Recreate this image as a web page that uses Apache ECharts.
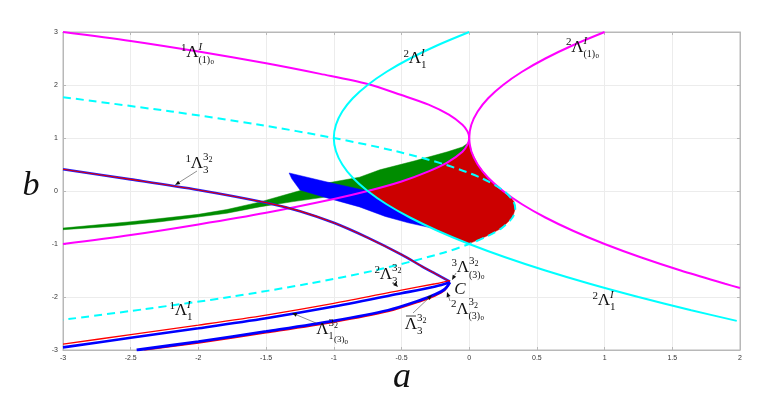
<!DOCTYPE html>
<html><head><meta charset="utf-8">
<script src="https://cdn.jsdelivr.net/npm/echarts@6/dist/echarts.min.js"></script>
<style>html,body{margin:0;padding:0;background:#fff}#c{width:768px;height:398px}</style>
</head><body><div id="c"></div>
<script>
// ---- data (a, b) ----
const xTicks = [-3, -2.5, -2, -1.5, -1, -0.5, 0, 0.5, 1, 1.5, 2];
const yTicks = [-3, -2, -1, 0, 1, 2, 3];

const magentaLeft = [[-3,3],[-2.5,2.83],[-2,2.63],[-1.5,2.41],[-1.1,2.21],[-0.75,2.02],[-0.5,1.81],[-0.3,1.63],[-0.15,1.44],[-0.05,1.25],[-0.012,1.12],[0,1],[-0.012,0.88],[-0.05,0.74],[-0.16,0.54],[-0.3,0.37],[-0.5,0.18],[-0.75,0],[-1,-0.15],[-1.5,-0.41],[-2,-0.63],[-2.5,-0.83],[-3,-1]];
const magentaRight = [[1,3],[0.766,2.75],[0.5625,2.5],[0.39,2.25],[0.25,2],[0.14,1.75],[0.0625,1.5],[0.0156,1.25],[0,1],[0.0156,0.75],[0.0625,0.5],[0.14,0.25],[0.25,0],[0.39,-0.25],[0.5625,-0.5],[0.766,-0.75],[1,-1],[1.266,-1.25],[1.5625,-1.5],[1.89,-1.75],[2,-1.83]];
const cyanSolid = [[0,3],[-0.234,2.75],[-0.4375,2.5],[-0.61,2.25],[-0.75,2],[-0.86,1.75],[-0.9375,1.5],[-0.984,1.25],[-1,1],[-0.984,0.75],[-0.9375,0.5],[-0.86,0.25],[-0.75,0],[-0.61,-0.25],[-0.4375,-0.5],[-0.234,-0.75],[0,-1],[0.266,-1.25],[0.5625,-1.5],[0.89,-1.75],[1.25,-2],[1.64,-2.25],[1.976,-2.45]];
const cyanDashed = [[-3,1.77],[-2.2,1.5],[-1.55,1.25],[-1,1],[-0.54,0.75],[-0.18,0.5],[0.085,0.25],[0.257,0],[0.327,-0.2],[0.34,-0.33],[0.32,-0.5],[0.24,-0.7],[0.135,-0.85],[0,-1],[-0.21,-1.18],[-0.7,-1.5],[-1.19,-1.75],[-1.77,-2],[-2.4,-2.23],[-3,-2.43]];
const greenRegion = [[-3,-0.70],[-2.5,-0.58],[-2.28,-0.52],[-2,-0.44],[-1.79,-0.35],[-1.55,-0.21],[-1.3,-0.03],[-1.05,0.15],[-0.81,0.26],[-0.66,0.40],[-0.4,0.57],[-0.16,0.74],[-0.05,0.83],[0,0.92],[-0.05,0.74],[-0.16,0.54],[-0.3,0.37],[-0.5,0.18],[-0.66,0.06],[-0.81,-0.02],[-1.05,-0.11],[-1.3,-0.2],[-1.55,-0.30],[-1.79,-0.42],[-2.28,-0.58],[-2.6,-0.66],[-3,-0.73]];
const blueRegion = [[-1.33,0.34],[-1.05,0.17],[-0.75,0.0],[-0.5,-0.2],[-0.35,-0.45],[-0.29,-0.69],[-0.45,-0.6],[-0.62,-0.48],[-0.81,-0.30],[-1.05,-0.13],[-1.25,0.02],[-1.31,0.23]];
const redRegion = [[0,0.95],[0.0156,0.75],[0.0625,0.5],[0.14,0.25],[0.25,0],[0.30,-0.1],[0.33,-0.2],[0.34,-0.33],[0.32,-0.5],[0.24,-0.7],[0.13,-0.85],[0.04,-0.95],[0,-0.99],[-0.05,-0.95],[-0.234,-0.75],[-0.4375,-0.5],[-0.61,-0.25],[-0.75,0],[-0.5,0.18],[-0.3,0.37],[-0.16,0.54],[-0.05,0.74]];
const lambda3Upper = [[-3,0.41],[-2.5,0.22],[-2,0.02],[-1.5,-0.22],[-1.25,-0.38],[-1,-0.6],[-0.75,-0.88],[-0.5,-1.2],[-0.35,-1.42],[-0.25,-1.56],[-0.142,-1.71]];
const lambda3Red = [[-3,-2.89],[-2.5,-2.71],[-2,-2.53],[-1.5,-2.34],[-1,-2.12],[-0.5,-1.87],[-0.25,-1.75],[-0.142,-1.69]];
const lambda3Blue = [[-3,-2.95],[-2.5,-2.77],[-2,-2.59],[-1.5,-2.40],[-1,-2.18],[-0.5,-1.93],[-0.25,-1.80],[-0.142,-1.72]];
const lambdaBarBlue = [[-2.456,-3],[-2,-2.84],[-1.5,-2.65],[-1,-2.45],[-0.6,-2.25],[-0.35,-2.05],[-0.25,-1.95],[-0.18,-1.85],[-0.142,-1.72]];
const lambdaBarRed = [[-2.40,-3],[-2,-2.865],[-1.5,-2.675],[-1,-2.475],[-0.6,-2.275],[-0.35,-2.075],[-0.25,-1.975],[-0.18,-1.87],[-0.145,-1.74]];

// ---- chart ----
const chart = echarts.init(document.getElementById('c'));
const SERIF = '"Liberation Serif","DejaVu Serif",serif';

function poly(data, color, z) {
  return {type:'custom', data:data, z:z, silent:true, clip:true, animation:false,
    encode:{x:0,y:1},
    renderItem:function(params, api){
      if (params.dataIndex !== 0) return null;
      const pts = data.map(function(p){ return api.coord(p); });
      return {type:'polygon', shape:{points:pts}, style:{fill:color, stroke:color, lineWidth:0.5}};
    }};
}
function line(data, color, width, z, dash) {
  return {type:'line', data:data, showSymbol:false, symbol:'none', smooth:0.3, z:z, silent:true, clip:true,
    animation:false, lineStyle:{color:color, width:width, type: dash ? [8,5] : 'solid', cap:'butt'}};
}

const axisCommon = {
  axisLine:{show:true, onZero:false, lineStyle:{color:'#b8b8b8', width:1}},
  axisTick:{show:true, inside:true, length:3, lineStyle:{color:'#b8b8b8'}},
  splitLine:{show:true, lineStyle:{color:'#ececec', width:1}},
  axisLabel:{fontSize:7, color:'#333', fontFamily:'"Liberation Sans",Arial,sans-serif', margin:5}
};

const option = {
  backgroundColor:'#fff',
  animation:false,
  grid:{left:63, right:28, top:32, bottom:48, show:true, borderColor:'#b8b8b8', borderWidth:1},
  xAxis:[Object.assign({type:'value', min:xTicks[0], max:xTicks[xTicks.length-1], interval:0.5}, axisCommon),
         {type:'value', position:'top', min:-3, max:2, interval:0.5, axisLine:{show:true, onZero:false, lineStyle:{color:'#b8b8b8'}},
          axisTick:{show:true, inside:true, length:3, lineStyle:{color:'#b8b8b8'}}, axisLabel:{show:false}, splitLine:{show:false}}],
  yAxis:[Object.assign({type:'value', min:yTicks[0], max:yTicks[yTicks.length-1], interval:1}, axisCommon),
         {type:'value', position:'right', min:-3, max:3, interval:1, axisLine:{show:true, onZero:false, lineStyle:{color:'#b8b8b8'}},
          axisTick:{show:true, inside:true, length:3, lineStyle:{color:'#b8b8b8'}}, axisLabel:{show:false}, splitLine:{show:false}}],
  series:[
    poly(greenRegion, '#008c00', 2),
    poly(blueRegion, '#0000ff', 3),
    poly(redRegion, '#cc0000', 4),
    line(magentaLeft, '#ff00ff', 2, 10),
    line(magentaRight, '#ff00ff', 2, 10),
    line(cyanSolid, '#00ffff', 2, 10),
    line(cyanDashed, '#00ffff', 2, 11, true),
    line(lambda3Upper, '#2020ff', 2.6, 12),
    line(lambda3Upper, '#e00000', 1.1, 13),
    line(lambda3Red, '#ff0000', 1.3, 12),
    line(lambda3Blue, '#0000ff', 2.6, 12),
    line(lambdaBarRed, '#ff0000', 1.6, 12),
    line(lambdaBarBlue, '#0000ff', 2.8, 13)
  ]
};
chart.setOption(option);

// ---- annotations (pixel positions) ----
const T = '#111';
function piece(t, x, y, fs, italic, align) {
  return {type:'text', x:x, y:y, z:100, silent:true,
    style:{text:t, font:(italic?'italic ':'') + fs + 'px ' + SERIF, fill:T, align:align||'left', verticalAlign:'middle'}};
}
const SUP_I = [['I',6,-6,11,true]];
const SUP_32 = [['3',6,-7,11],['2',11.5,-4,8]];
const SUB_1 = [['1',6,6,11]];
const SUB_3 = [['3',6,6,11]];
const SUB_10 = [['(1)',6,7,10],['0',18,9,7]];
const SUB_30 = [['(3)',6,7,10],['0',18,9,7]];
const SUB_130 = [['1',6,6,10],['(3)',11.5,10,9],['0',22,12,7]];

function lam(cx, cy, pre, sup, sub, bar) {
  const out = [piece('Λ', cx, cy, 17, false, 'center')];
  if (pre) out.push(piece(pre, cx-6, cy-5, 11, false, 'right'));
  (sup||[]).concat(sub||[]).forEach(function(p){ out.push(piece(p[0], cx+p[1], cy+p[2], p[3], !!p[4], 'left')); });
  if (bar) out.push({type:'line', z:100, silent:true, shape:{x1:cx-5, y1:cy-9, x2:cx+5, y2:cy-9}, style:{stroke:T, lineWidth:0.8}});
  return out;
}
function arrow(x1, y1, x2, y2) {
  const ang = Math.atan2(y2-y1, x2-x1), L = 5, W = 2;
  const bx = x2 - L*Math.cos(ang), by = y2 - L*Math.sin(ang);
  return [
    {type:'line', z:99, silent:true, shape:{x1:x1,y1:y1,x2:bx,y2:by}, style:{stroke:'#444', lineWidth:0.6}},
    {type:'polygon', z:99, silent:true, shape:{points:[[x2,y2],[bx - W*Math.sin(ang), by + W*Math.cos(ang)],[bx + W*Math.sin(ang), by - W*Math.cos(ang)]]}, style:{fill:'#111'}}
  ];
}

let g = [];
g = g.concat(lam(192.5, 53, '1', SUP_I, SUB_10));
g = g.concat(lam(415, 59, '2', SUP_I, SUB_1));
g = g.concat(lam(577.5, 47.5, '2', SUP_I, SUB_10));
g = g.concat(lam(197, 164, '1', SUP_32, SUB_3));
g = g.concat(lam(181, 311, '1', SUP_I, SUB_1));
g = g.concat(lam(604, 301, '2', SUP_I, SUB_1));
g = g.concat(lam(386, 275, '2', SUP_32, SUB_3));
g = g.concat(lam(463, 268, '3', SUP_32, SUB_30));
g = g.concat(lam(462.5, 309.5, '2', SUP_32, SUB_30));
g = g.concat(lam(411, 325, null, SUP_32, SUB_3, true));
g = g.concat(lam(322.5, 330, null, SUP_32, SUB_130));
g.push(piece('C', 460, 290, 17, true, 'center'));
g = g.concat(arrow(197, 171, 175, 185));
g = g.concat(arrow(393, 282, 398, 287));
g = g.concat(arrow(456, 273, 452, 280));
g = g.concat(arrow(450, 301, 447, 292));
g = g.concat(arrow(413, 313, 432, 295));
g = g.concat(arrow(316, 323, 292, 313));
g.push(piece('b', 31, 186, 34, true, 'center'));
g.push(piece('a', 402, 378, 36, true, 'center'));

chart.setOption({graphic:{elements:g}});
</script>
</body></html>
